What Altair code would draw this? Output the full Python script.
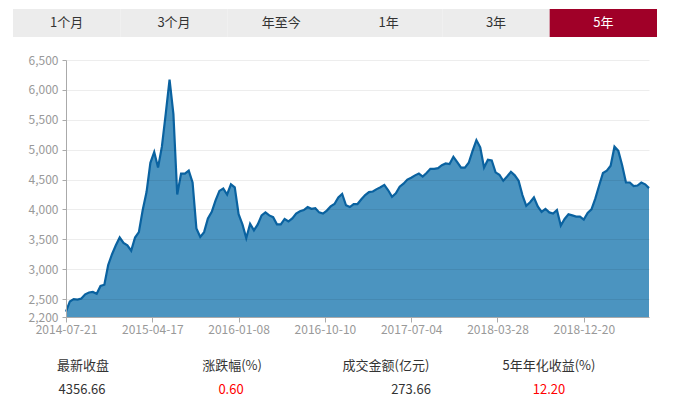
import altair as alt
import pandas as pd

# ---- data (closing level every 8 trading days) ----
closes = [
    2290, 2460, 2500, 2490, 2510, 2580, 2610, 2620, 2590, 2720,
    2740, 3070, 3250, 3400, 3530, 3440, 3400, 3310, 3530, 3620,
    3990, 4290, 4780, 4960, 4700, 5050, 5600, 6170, 5600, 4250,
    4600, 4600, 4650, 4450, 3680, 3540, 3620, 3850, 3960, 4150,
    4310, 4350, 4250, 4420, 4370, 3920, 3750, 3520, 3760, 3650,
    3750, 3900, 3950, 3900, 3870, 3750, 3750, 3840, 3800, 3850,
    3930, 3970, 3990, 4040, 4010, 4020, 3950, 3930, 3980, 4050,
    4090, 4200, 4260, 4070, 4040, 4090, 4090, 4170, 4240, 4290,
    4300, 4340, 4370, 4410, 4320, 4210, 4270, 4380, 4430, 4500,
    4530, 4570, 4600, 4550, 4610, 4680, 4680, 4690, 4740, 4770,
    4760, 4880, 4790, 4700, 4700, 4780, 4980, 5160, 5040, 4700,
    4830, 4820, 4620, 4580, 4480, 4550, 4630, 4570, 4480, 4240,
    4060, 4120, 4200, 4050, 3960, 4010, 3950, 3930, 3990, 3730,
    3840, 3920, 3900, 3880, 3880, 3830, 3940, 4000, 4180, 4400,
    4610, 4650, 4730, 5050, 4980, 4740, 4450, 4450, 4390, 4400,
    4450, 4420, 4356.66,
]
step_days = 8
tick_days = [0, 180, 360, 540, 720, 900, 1080]
tick_labels = ["2014-07-21", "2015-04-17", "2016-01-08", "2016-10-10",
               "2017-07-04", "2018-03-28", "2018-12-20"]
y_ticks = [2200, 2500, 3000, 3500, 4000, 4500, 5000, 5500, 6000, 6500]
y_floor = 2200

buttons = ["1个月", "3个月", "年至今", "1年", "3年", "5年"]
selected = "5年"

stat_labels = ["最新收盘", "涨跌幅(%)", "成交金额(亿元)", "5年年化收益(%)"]
stat_values = ["4356.66", "0.60", "273.66", "12.20"]
stat_red = [False, True, False, True]

# ---- styling ----
FONT = "Noto Sans CJK SC"
FILL = "#4b94c0"
LINE = "#0a62a0"
RED_BTN = "#a00028"
GRAY_BTN = "#ececec"

df = pd.DataFrame({"day": [i * step_days for i in range(len(closes))], "close": closes})
last_day = (len(closes) - 1) * step_days

label_expr = "[" + ",".join("'%s'" % t for t in tick_labels) + "][round(datum.value / 180)]"

x_enc = alt.X(
    "day:Q",
    scale=alt.Scale(domain=[0, last_day], nice=False, zero=False),
    axis=alt.Axis(
        values=tick_days, labelExpr=label_expr, title=None, grid=False,
        domainColor="#aaaaaa", tickColor="#aaaaaa", tickSize=5,
        labelColor="#999999", labelFontSize=12, labelFont=FONT, labelPadding=2,
        labelFlush=False, zindex=1,
    ),
)
y_enc = alt.Y(
    "close:Q",
    scale=alt.Scale(domain=[y_floor, 6500], nice=False, zero=False),
    axis=alt.Axis(
        values=y_ticks, labelExpr="format(datum.value, ',')", title=None, grid=True,
        gridColor="#000000", gridOpacity=0.07, zindex=1,
        domainColor="#aaaaaa", tickColor="#aaaaaa", tickSize=4,
        labelColor="#999999", labelFontSize=12, labelFont=FONT, labelPadding=4,
    ),
)

base = alt.Chart(df).encode(x=x_enc, y=y_enc)
area = base.mark_area(color=FILL, opacity=1).encode(y2=alt.datum(y_floor))
line = base.mark_line(color=LINE, strokeWidth=2.2)
main = alt.layer(area, line)

# ---- buttons row ----
btn_df = pd.DataFrame({"btn": buttons, "sel": [b == selected for b in buttons]})
bx = alt.X(
    "btn:N", sort=buttons,
    scale=alt.Scale(domain=buttons, range=[-53, 591], paddingInner=0, paddingOuter=0),
    axis=None,
)
btn_rect = alt.Chart(btn_df).mark_rect().encode(
    x=bx, y=alt.value(-51), y2=alt.value(-23),
    color=alt.condition("datum.sel", alt.value(RED_BTN), alt.value(GRAY_BTN)),
)
btn_text = alt.Chart(btn_df).mark_text(font=FONT, fontSize=13, baseline="middle").encode(
    x=bx, y=alt.value(-37), text="btn:N",
    color=alt.condition("datum.sel", alt.value("#ffffff"), alt.value("#333333")),
)
buttons_layer = alt.layer(btn_rect, btn_text)

# ---- statistics below the chart ----
stat_label_x = [17, 166, 320, 483]
stat_value_x = [16, 165, 345, 483]
stat_layers = []
for i in range(len(stat_labels)):
    sdf = pd.DataFrame({"label": [stat_labels[i]], "value": [stat_values[i]]})
    stat_layers.append(
        alt.Chart(sdf).mark_text(font=FONT, fontSize=13, color="#333333").encode(
            x=alt.value(stat_label_x[i]), y=alt.value(306), text="label:N"
        )
    )
    stat_layers.append(
        alt.Chart(sdf).mark_text(
            font=FONT, fontSize=13, color="#ff0000" if stat_red[i] else "#333333"
        ).encode(x=alt.value(stat_value_x[i]), y=alt.value(330), text="value:N")
    )

chart = alt.layer(main, buttons_layer, *stat_layers).resolve_scale(
    x="independent", y="independent"
).properties(
    width=583, height=257,
    padding={"left": 5, "top": 1, "right": 5, "bottom": 5},
    background="white",
).configure_view(stroke=None)

chart.save("out.html", embed_options={"renderer": "svg", "actions": False})
